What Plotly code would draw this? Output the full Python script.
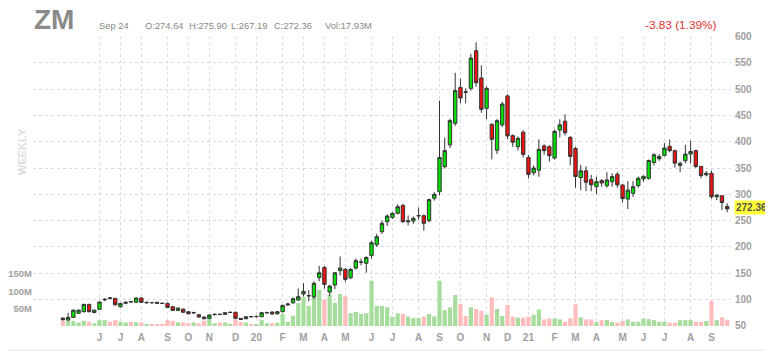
import pandas as pd
import plotly.graph_objects as go

# ---------------- data ----------------
first_week = "2019-04-19"   # weekly bars, dated by Friday
n_weeks = 128

opens = [65, 61.2, 66.3, 74, 77, 91, 75.5, 81.5, 99.5, 103.5,
         102.4, 86.5, 93, 96.5, 94.8, 103, 93.8, 94.3, 94.8, 93,
         92.9, 86.5, 79.5, 82, 77, 74.8, 71.3, 66.9, 64.4, 71.5,
         72.3, 72, 75.5, 76, 64.4, 63.7, 67.8, 67.5, 67.5, 75,
         76.4, 73, 77, 90, 94, 99.2, 110.6, 107, 105.5, 142,
         161, 114.4, 127.7, 155, 157.5, 141.6, 160, 171, 169, 184,
         204.3, 229, 248, 256.3, 264, 279, 248, 249.3, 259, 259.4,
         250, 292.5, 305, 352.5, 394, 435, 503, 495, 501.4, 573,
         521, 463.4, 433, 384, 432, 487, 411.4, 390.5, 418, 370,
         341, 346, 392, 390.6, 369, 422, 439, 408, 387, 332,
         344.6, 328, 314.5, 326, 316.4, 324, 338, 317.7, 291, 302,
         316.4, 329.2, 330.5, 360.5, 367.6, 374, 391.2, 383, 355, 363.7,
         376.5, 383, 353, 337, 340, 295.4, 297.3, 277]
highs = [66, 75, 81, 81.5, 92, 92, 81, 96.5, 103, 105,
         103, 93.5, 96, 97.5, 104, 104, 96, 95.5, 96, 94,
         94, 87.5, 85, 83, 78, 77, 72.5, 68, 71.5, 73.5,
         73, 76, 77.5, 77, 65, 68.5, 69, 69.5, 76.5, 77,
         77.5, 78, 90.5, 94, 104, 121, 131, 118, 135, 164,
         164, 128, 152.5, 182, 160, 160, 178, 178, 182, 212,
         225, 250, 262, 266, 281, 282, 260, 258, 275, 262,
         292, 304, 478, 408, 444, 531, 520, 501.5, 567, 588.8,
         545, 505, 435, 443, 476, 490, 414, 410, 422, 375,
         355, 404.5, 395, 393, 423, 442.5, 452, 411, 390, 356,
         353, 337, 333.7, 329, 342, 340, 342, 320, 325, 325,
         333.7, 335.6, 366, 378.4, 376.5, 397.6, 404, 385, 362.5, 394,
         402, 385, 354, 344, 345, 300, 298, 283]
lows = [60, 59.5, 65, 73, 76, 76, 74, 80, 97, 100,
        88, 85, 92, 94, 94, 94, 92.5, 93, 92, 91.5,
        84, 78.5, 78.5, 75, 72, 73, 66, 62.5, 63.5, 70,
        70.5, 71, 74.5, 63, 61, 62.8, 66.5, 66, 67, 73.5,
        72, 72, 76, 88, 92, 98, 106, 97, 101, 135,
        121, 107, 120, 146, 134, 139, 157, 165, 151, 178,
        200, 225, 240, 253, 262, 246, 241, 244, 252, 231,
        247, 288, 298, 349, 388, 430, 473, 473, 497, 504.5,
        455, 442.5, 366.5, 376.6, 428, 405, 390, 383, 370, 330,
        336, 333.5, 375, 362, 366, 408, 412, 355, 312.6, 308,
        306, 306, 300, 314.5, 312.6, 314.5, 312.6, 284.5, 272, 295,
        312.6, 324, 328, 354.8, 363.7, 372, 380, 351, 342, 359,
        359, 350, 330.5, 334, 292, 289, 270, 266]
closes = [62, 66.3, 80, 80, 91, 77, 80, 95.4, 100.5, 102.5,
          90.3, 92.9, 95, 95.8, 103, 94.8, 94.8, 94.2, 92.9, 92.8,
          85.3, 79.6, 84, 76, 73.2, 75.3, 66.9, 63.7, 70.7, 72,
          71.8, 75.1, 75.8, 64.4, 62.5, 67.5, 67.5, 68, 75.1, 75.3,
          72.6, 77, 89, 91.6, 101.7, 105.5, 115.7, 107.6, 131, 151,
          129, 125.8, 151, 160, 138.5, 157.5, 174, 171.5, 180.3, 208,
          219.5, 245, 258.8, 264, 276.5, 248, 249.5, 254.4, 259.5, 245,
          290, 300, 370, 383, 440, 497, 483, 494, 559, 512,
          461.5, 501.4, 404.5, 440, 471.6, 411, 399, 406.4, 376, 338,
          350, 385.5, 383, 373.4, 419.7, 432, 417, 372, 334, 344.6,
          323, 318, 324, 321.6, 327.3, 333.7, 318, 292, 308, 314.5,
          330.5, 334.3, 364.4, 375.2, 372, 388, 383, 359.3, 359, 376.5,
          381.6, 353, 335.6, 340, 295.4, 298.6, 284.5, 272.36]
volumes_m = [15.4, 15, 15, 10, 15, 12.5, 8, 17, 17, 12.5,
             17, 12.5, 10, 12.5, 10.6, 10, 6, 6, 5, 6,
             17, 15, 10.6, 10, 8, 10, 8, 15, 22, 8,
             10, 10, 6, 19, 11.5, 10, 6, 6, 17, 8,
             8, 10, 34.7, 12.5, 30, 66, 83, 58, 85, 105,
             77, 90, 67, 92.5, 86, 37, 41, 35, 37, 131,
             58, 58, 54, 27, 36.6, 34.7, 27, 23, 23, 27,
             34.7, 28, 131, 46, 54, 89.6, 63.6, 29, 54, 49,
             44, 32, 83, 49, 29, 60.7, 27, 24, 24, 27,
             32.8, 48, 19, 22, 22, 19, 12.5, 22, 62.6, 25,
             19, 19, 12.5, 17, 17, 11.5, 9.6, 14.5, 19, 12.5,
             12.5, 22, 20, 17, 12.5, 12.5, 9.6, 9.6, 17, 17,
             17, 12.5, 12.5, 14.5, 72, 17, 25, 17.93]

tick_dates = ["2019-06-07", "2019-07-05", "2019-08-02", "2019-09-06", "2019-10-04",
              "2019-11-01", "2019-12-06", "2020-01-03", "2020-02-07", "2020-03-06",
              "2020-04-03", "2020-05-01", "2020-06-05", "2020-07-03", "2020-08-07",
              "2020-09-04", "2020-10-02", "2020-11-06", "2020-12-04", "2021-01-01",
              "2021-02-05", "2021-03-05", "2021-04-02", "2021-05-07", "2021-06-04",
              "2021-07-02", "2021-08-06", "2021-09-03"]
tick_labels = ["J", "J", "A", "S", "O", "N", "D", "20", "F", "M", "A", "M", "J", "J",
               "A", "S", "O", "N", "D", "21", "F", "M", "A", "M", "J", "J", "A", "S"]
price_ticks = [50, 100, 150, 200, 250, 300, 350, 400, 450, 500, 550, 600]
vol_ticks = [50e6, 100e6, 150e6]
vol_tick_labels = ["50M", "100M", "150M"]

symbol = "ZM"
header_date = "Sep 24"
header_o, header_h, header_l, header_c = "274.64", "275.90", "267.19", "272.36"
header_vol = "17.93M"
change_text = "-3.83 (1.39%)"
last_price = 272.36

# ---------------- figure ----------------
dates = pd.date_range(first_week, periods=n_weeks, freq="W-FRI")
vol_colors = ["#a6dc9c" if c >= o else "#ffbcbc" for o, c in zip(opens, closes)]

# the page places the figure 8 px from the window's top-left corner
OFF = 8
SCR_W, SCR_H = 773, 355
PL, PR, PT, PB = 33, 731, 36, 326          # plot area in window pixels
W, H = SCR_W - OFF, SCR_H - OFF
L, R, T, B = PL - OFF, SCR_W - PR, PT - OFF, SCR_H - PB
PW, PH = PR - PL, PB - PT


def px(x):
    return (x - PL) / PW


def py(y):
    return (PB - y) / PH


fig = go.Figure()
fig.add_trace(go.Bar(
    x=dates, y=[v * 1e6 for v in volumes_m], marker_color=vol_colors,
    marker_line_width=0, width=0.8 * 7 * 24 * 3600 * 1000, yaxis="y",
    hoverinfo="skip"))
fig.add_trace(go.Candlestick(
    x=dates, open=opens, high=highs, low=lows, close=closes, yaxis="y2",
    whiskerwidth=0,
    increasing=dict(fillcolor="#00dd00", line=dict(color="#333333", width=1)),
    decreasing=dict(fillcolor="#ee1111", line=dict(color="#333333", width=1))))

tickfont = dict(family="Arial", size=10, color="#a0a0a0", weight="bold")
volfont = dict(family="Arial", size=9.5, color="#a0a0a0", weight="bold")
grid = dict(showgrid=True, gridcolor="#dcdcdc", gridwidth=1, griddash="3px,3px")

fig.update_layout(
    width=W, height=H, margin=dict(l=L, r=R, t=T, b=B, pad=0, autoexpand=False),
    paper_bgcolor="white", plot_bgcolor="white", showlegend=False,
    hovermode=False, boxgap=0.08,
    xaxis=dict(type="date", range=["2019-03-10", "2021-09-29 02:00"],
               tickmode="array", tickvals=tick_dates, ticktext=tick_labels,
               ticks="", showline=False, zeroline=False, tickfont=tickfont,
               ticklabelstandoff=4, automargin=False,
               rangeslider=dict(visible=False), **grid),
    yaxis=dict(range=[0, 838e6], side="left", tickmode="array",
               tickvals=vol_ticks, ticktext=vol_tick_labels, showgrid=False,
               zeroline=False, showline=False, ticks="", tickfont=volfont,
               ticklabelstandoff=0, automargin=False),
    yaxis2=dict(range=[49.9, 600.8], side="right", overlaying="y",
                tickmode="array", tickvals=price_ticks, zeroline=False,
                showline=False, ticks="", tickfont=tickfont,
                ticklabelstandoff=3, automargin=False, **grid),
)

# outer frame (right and bottom edges fall inside the page)
frame = dict(color="#e3e3e3", width=1)
fig.add_shape(type="line", xref="paper", yref="paper",
              x0=px(770), x1=px(770), y0=py(350), y1=py(OFF), line=frame)
fig.add_shape(type="line", xref="paper", yref="paper",
              x0=px(OFF), x1=px(770), y0=py(350), y1=py(350), line=frame)

ann = []
ann.append(dict(text=symbol, x=px(32), y=py(20), xanchor="left", yanchor="middle",
                font=dict(family="Arial", size=28, color="#8a8a8a", weight="bold")))
hdr_font = dict(family="Arial", size=9.4, color="#888888")
for txt, xx in [(header_date, 97), ("O:" + header_o, 143), ("H:" + header_h, 187),
                ("L:" + header_l, 229), ("C:" + header_c, 272),
                ("Vol:" + header_vol, 323)]:
    ann.append(dict(text=txt, x=px(xx), y=py(25), xanchor="left", yanchor="middle",
                    font=hdr_font))
ann.append(dict(text=change_text, x=px(719), y=py(24.5), xanchor="right",
                yanchor="middle", font=dict(family="Arial", size=11.8, color="#e03333")))
ann.append(dict(text="WEEKLY", x=px(22), y=py(152), xanchor="center", yanchor="middle",
                textangle=-90,
                font=dict(family="Arial", size=11, color="#dddddd", weight="bold")))
ann.append(dict(text=f"{last_price:.2f}", x=px(734), y=py(207.5), xanchor="left",
                yanchor="middle", bgcolor="#ffff33", borderpad=1,
                font=dict(family="Arial", size=10, color="#555555", weight="bold")))
for a in ann:
    a.update(xref="paper", yref="paper", showarrow=False)
fig.update_layout(annotations=ann)

fig.write_html("out.html")
